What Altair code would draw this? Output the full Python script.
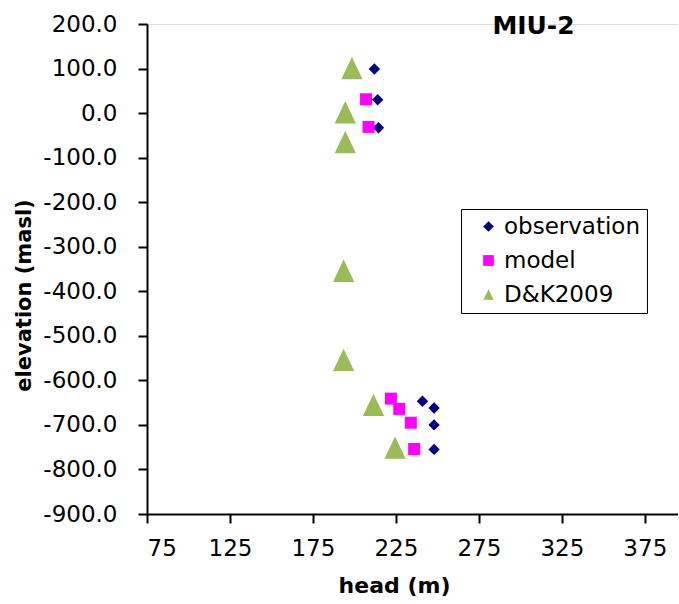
import altair as alt
import pandas as pd

# Series definitions
series_names = ["observation", "model", "D&K2009"]
series_colors = ["#000080", "#FF00FF", "#9BBB59"]
# taller-than-wide triangle for the D&K2009 markers
series_shapes = ["diamond", "square", "M0,-1L-0.95,1L0.95,1Z"]
marker_sizes = [130, 144, 500]

# Hydraulic head (m) against elevation (masl) for borehole MIU-2
obs_head = [212, 214, 214.5, 241, 248, 248, 248]
obs_elev = [99, 30, -33, -647, -662, -700, -755]

model_head = [207, 208.5, 222, 227, 234, 236]
model_elev = [31, -31, -641, -664, -695, -754]

dk_head = [198.5, 194.5, 194.5, 193.5, 193.5, 211.5, 224.5]
dk_elev = [101, 2, -65, -354, -554, -655, -751]

x_ticks = [75, 125, 175, 225, 275, 325, 375]
y_ticks = [200, 100, 0, -100, -200, -300, -400, -500, -600, -700, -800, -900]

rows = []
for name, heads, elevs in [
    ("observation", obs_head, obs_elev),
    ("model", model_head, model_elev),
    ("D&K2009", dk_head, dk_elev),
]:
    for h, e in zip(heads, elevs):
        rows.append({"series": name, "head": h, "elevation": e})
df = pd.DataFrame(rows)

FONT = "DejaVu Sans"

x_enc = alt.X(
    "head:Q",
    scale=alt.Scale(domain=[75, 395], nice=False, zero=False),
    axis=alt.Axis(
        values=x_ticks,
        title="head (m)",
        titleFont=FONT,
        titleFontSize=22,
        titleFontWeight="bold",
        titleColor="black",
        titleX=247,
        titleY=78,
        titleBaseline="alphabetic",
        labelFont=FONT,
        labelFontSize=23,
        labelColor="black",
        labelPadding=14,
        tickSize=9,
        tickWidth=2,
        tickColor="black",
        domainColor="black",
        domainWidth=2,
        grid=False,
    ),
)

y_enc = alt.Y(
    "elevation:Q",
    scale=alt.Scale(domain=[-900, 200], nice=False, zero=False),
    axis=alt.Axis(
        values=y_ticks,
        labelExpr="datum.value < 0 ? '-' + format(-datum.value, '.1f') : format(datum.value, '.1f')",
        title="elevation (masl)",
        titleFont=FONT,
        titleFontSize=21,
        titleFontWeight="bold",
        titleColor="black",
        titleAngle=270,
        titleX=-123,
        titleY=271,
        titleBaseline="middle",
        titleAlign="center",
        labelFont=FONT,
        labelFontSize=23,
        labelColor="black",
        labelPadding=21,
        tickSize=9,
        tickWidth=2,
        tickColor="black",
        domainColor="black",
        domainWidth=2,
        grid=False,
    ),
)

color_enc = alt.Color(
    "series:N",
    scale=alt.Scale(domain=series_names, range=series_colors),
    legend=alt.Legend(
        title=None,
        orient="none",
        legendX=314,
        legendY=185,
        padding=6,
        symbolOffset=10,
        labelOffset=4,
        rowPadding=10,
        labelFont=FONT,
        labelFontSize=23,
        labelColor="black",
        symbolSize=115,
        symbolStrokeWidth=0,
        strokeColor="black",
        fillColor="white",
    ),
)

shape_enc = alt.Shape(
    "series:N",
    scale=alt.Scale(domain=series_names, range=series_shapes),
)

base = alt.Chart(df).encode(x=x_enc, y=y_enc, color=color_enc, shape=shape_enc)

# one layer per series so each gets its own marker size; drawn in series order
layers = [
    base.transform_filter(alt.datum.series == name).mark_point(
        filled=True, opacity=1, strokeWidth=0, size=size
    )
    for name, size in zip(series_names, marker_sizes)
]

chart = (
    alt.layer(*layers)
    .properties(
        width=531,
        height=490,
        padding={"left": 147, "top": 24, "right": 0, "bottom": 90},
        autosize=alt.AutoSizeParams(type="none"),
        title=alt.TitleParams(
            "MIU-2",
            font=FONT,
            fontSize=25,
            fontWeight="bold",
            color="black",
            anchor="middle",
            frame="group",
            orient="top",
            offset=0,
            dx=121,
            dy=46,
            baseline="alphabetic",
        ),
    )
    .configure_view(stroke=None)
    .configure(background="white")
)

chart.save("out.html", embed_options={"renderer": "svg", "actions": False})
